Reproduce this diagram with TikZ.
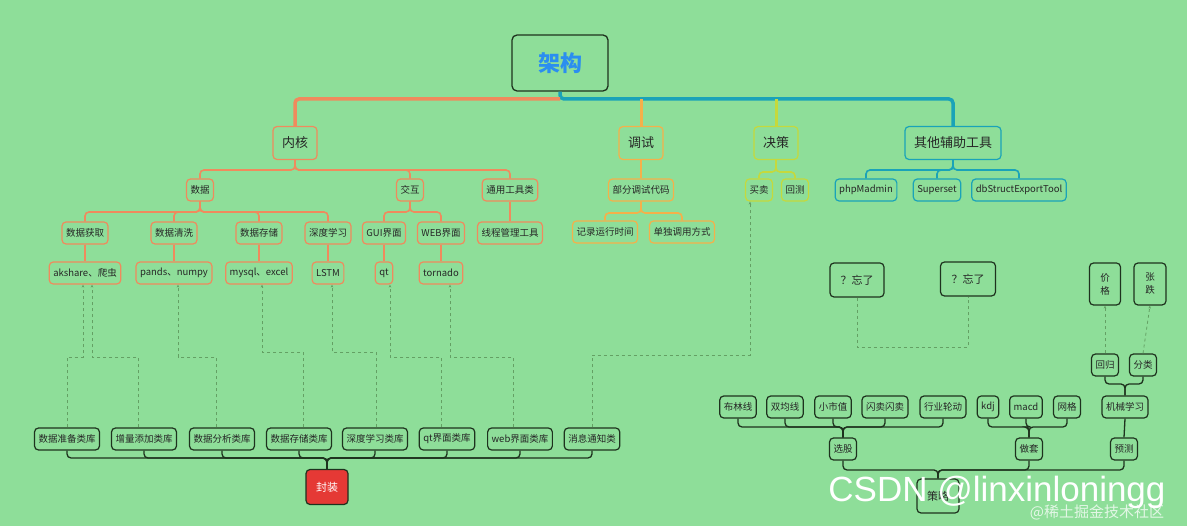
\documentclass[tikz,border=0pt]{standalone}
\usepackage{fontspec}
\setmainfont{Noto Sans CJK SC}
\newfontfamily\wm{Liberation Sans}
\usetikzlibrary{arrows.meta}
\definecolor{bgC}{RGB}{142,222,153}
\definecolor{orC}{RGB}{240,138,93}
\definecolor{yoC}{RGB}{245,176,74}
\definecolor{ygC}{RGB}{197,217,60}
\definecolor{teC}{RGB}{26,163,184}
\definecolor{dkC}{RGB}{30,50,30}
\definecolor{dashC}{RGB}{100,160,100}
\definecolor{rootC}{RGB}{43,142,240}
\definecolor{redC}{RGB}{229,57,53}
\tikzset{
 bx/.style={draw, rounded corners=4pt, line width=1.2pt, inner xsep=4pt, inner ysep=2pt, minimum height=22pt, font=\fontsize{9.5}{11}\selectfont, text=black!85},
 ob/.style={bx, draw=orC}, yb/.style={bx, draw=yoC}, gb/.style={bx, draw=ygC},
 tb/.style={bx, draw=teC}, kb/.style={bx, draw=dkC},
 big/.style={minimum height=33pt, inner xsep=9pt, font=\fontsize{13}{15}\selectfont},
 ol/.style={draw=orC, line width=1.6pt, rounded corners=4pt},
 yl/.style={draw=yoC, line width=1.6pt, rounded corners=4pt},
 gl/.style={draw=ygC, line width=1.6pt, rounded corners=4pt},
 tl/.style={draw=teC, line width=1.6pt, rounded corners=4pt},
 kl/.style={draw=dkC, line width=1.3pt, rounded corners=4pt},
 dl/.style={draw=dashC, dashed, line width=0.8pt},
 da/.style={dl, -{Stealth[length=3pt,width=2.5pt]}},
}
\begin{document}
\begin{tikzpicture}[x=1pt,y=-1pt]
\useasboundingbox[fill=bgC] (0,0) rectangle (1187,526);
% root
\node[draw=dkC, line width=1.3pt, rounded corners=5pt, minimum width=96pt, minimum height=56pt, font=\fontsize{22}{24}\selectfont\bfseries, text=rootC] (root) at (560,63) {架构};
\node[ob,big] (nh) at (295,143) {内核};
\node[yb,big] (ts) at (641,143) {调试};
\node[gb,big] (jc) at (776,143) {决策};
\node[tb,big] (qt0) at (953,143) {其他辅助工具};
\draw[tl, line width=3.5pt] (root.south) -- (root.south|-0,99) -| (qt0.north);
\draw[ol, line width=3.5pt] (root.south|-0,99) -| (nh.north);
\draw[yl, line width=3pt] (ts.north) -- (ts.north|-0,99);
\draw[gl, line width=3pt] (jc.north) -- (jc.north|-0,99);
% 内核 subtree
\node[ob] (sj) at (200,190) {数据};
\node[ob] (jh) at (410,190) {交互};
\node[ob] (ty) at (510,190) {通用工具类};
\foreach \c in {sj,jh,ty} \draw[ol] (nh.south) -- (nh.south|-0,170) -| (\c.north);
\node[ob] (a1) at (85,233) {数据获取};
\node[ob] (a2) at (174,233) {数据清洗};
\node[ob] (a3) at (259,233) {数据存储};
\node[ob] (a4) at (328,233) {深度学习};
\node[ob] (a5) at (384,233) {GUI界面};
\node[ob] (a6) at (441,233) {WEB界面};
\node[ob] (a7) at (510,233) {线程管理工具};
\foreach \c in {a1,a2,a3,a4} \draw[ol] (sj.south) -- (sj.south|-0,212) -| (\c.north);
\foreach \c in {a5,a6} \draw[ol] (jh.south) -- (jh.south|-0,212) -| (\c.north);
\draw[ol] (ty.south) -- (a7.north);
\node[ob] (c1) at (85,273) {akshare、爬虫};
\node[ob] (c2) at (174,273) {pands、numpy};
\node[ob] (c3) at (259,273) {mysql、excel};
\node[ob] (c4) at (328,273) {LSTM};
\node[ob] (c5) at (384,273) {qt};
\node[ob] (c6) at (441,273) {tornado};
\foreach \i in {1,...,6} \draw[ol] (a\i.south) -- (c\i.north);
% 调试
\node[yb] (bf) at (641,190) {部分调试代码};
\node[yb] (jl) at (605,232) {记录运行时间};
\node[yb] (dd) at (682,232) {单独调用方式};
\draw[yl] (ts.south) -- (bf.north);
\foreach \c in {jl,dd} \draw[yl] (bf.south) -- (bf.south|-0,213) -| (\c.north);
% 决策
\node[gb] (mm) at (759,190) {买卖};
\node[gb] (hc) at (795,190) {回测};
\foreach \c in {mm,hc} \draw[gl] (jc.south) -- (jc.south|-0,172) -| (\c.north);
% 其他
\node[tb] (p1) at (866,190) {phpMadmin};
\node[tb] (p2) at (937,190) {Superset};
\node[tb] (p3) at (1019,190) {dbStructExportTool};
\foreach \c in {p1,p2,p3} \draw[tl] (qt0.south) -- (qt0.south|-0,170) -| (\c.north);
% bottom left
\node[kb] (b1) at (67,439) {数据准备类库};
\node[kb] (b2) at (144,439) {增量添加类库};
\node[kb] (b3) at (222,439) {数据分析类库};
\node[kb] (b4) at (299,439) {数据存储类库};
\node[kb] (b5) at (375,439) {深度学习类库};
\node[kb] (b6) at (447,439) {qt界面类库};
\node[kb] (b7) at (520,439) {web界面类库};
\node[kb] (b8) at (592,439) {消息通知类};
\node[draw=dkC, fill=redC, line width=1.2pt, rounded corners=4pt, minimum width=42pt, minimum height=35pt, text=white, font=\fontsize{11}{13}\selectfont] (fz) at (327,487) {封装};
\foreach \c in {b1,b2,b3,b4,b5,b6,b7,b8} \draw[kl] (\c.south) |- (fz.north|-0,458) -- (fz.north);
% dashed
\draw[da] (b1.north) |- (83,357) -- (c1.south-|83,0);
\draw[da] (b2.north-|138,0) |- (92,357) -- (c1.south-|92,0);
\draw[da] (b3.north-|216,0) |- (178,357) -- (c2.south-|178,0);
\draw[da] (b4.north-|303,0) |- (262,352) -- (c3.south-|262,0);
\draw[da] (b5.north-|376,0) |- (332,352) -- (c4.south-|332,0);
\draw[da] (b6.north-|441,0) |- (390,357) -- (c5.south-|390,0);
\draw[da] (b7.north-|513,0) |- (450,357) -- (c6.south-|450,0);
\draw[da] (b8.north) |- (750,355) -- (mm.south-|750,0);
% right
\node[kb, minimum width=54pt, minimum height=34pt, font=\fontsize{11}{13}\selectfont] (w1) at (857,280) {？忘了};
\node[kb, minimum width=55pt, minimum height=34pt, font=\fontsize{11}{13}\selectfont] (w2) at (968,279) {？忘了};
\draw[dl] (w1.south) |- (968,347) -- (w2.south);
\node[kb, minimum width=31pt, minimum height=42pt, align=center, font=\fontsize{9.5}{13}\selectfont] (jg) at (1105,284) {价\\格};
\node[kb, minimum width=32pt, minimum height=42pt, align=center, font=\fontsize{9.5}{13}\selectfont] (zd) at (1150,284) {张\\跌};
\node[kb] (hg) at (1105,365) {回归};
\node[kb] (fl) at (1143,365) {分类};
\draw[da] (hg.north) -- (jg.south);
\draw[da] (fl.north) -- (zd.south);
\node[kb] (jx) at (1125,407) {机械学习};
\foreach \c in {hg,fl} \draw[kl] (\c.south) |- (jx.north|-0,384) -- (jx.north);
\node[kb] (yc) at (1124,449) {预测};
\draw[kl] (jx.south) -- (yc.north);
\node[kb] (r1) at (738,407) {布林线};
\node[kb] (r2) at (785,407) {双均线};
\node[kb] (r3) at (833,407) {小市值};
\node[kb] (r4) at (885,407) {闪卖闪卖};
\node[kb] (r5) at (943,407) {行业轮动};
\node[kb] (r6) at (988,407) {kdj};
\node[kb] (r7) at (1026,407) {macd};
\node[kb] (r8) at (1067,407) {网格};
\node[kb] (xg) at (843,449) {选股};
\node[kb] (zt) at (1029,449) {做套};
\foreach \c in {r1,r2,r3,r4,r5} \draw[kl] (\c.south) |- (xg.north|-0,427) -- (xg.north);
\foreach \c in {r6,r7,r8} \draw[kl] (\c.south) |- (zt.north|-0,427) -- (zt.north);
\node[kb, minimum width=42pt, minimum height=34pt, font=\fontsize{11}{13}\selectfont] (cl) at (938,496) {策略};
\foreach \c in {xg,zt,yc} \draw[kl] (\c.south) |- (cl.north|-0,470) -- (cl.north);
% watermarks
\node[text=white, font=\wm\fontsize{35}{38}\selectfont, inner sep=0pt] (wmA) at (997,492) {CSDN @linxinloningg};
\node[text=white, opacity=0.75, font=\fontsize{15}{17}\selectfont, inner sep=0pt] (wmB) at (1097,512) {@稀土掘金技术社区};
\end{tikzpicture}
\end{document}
